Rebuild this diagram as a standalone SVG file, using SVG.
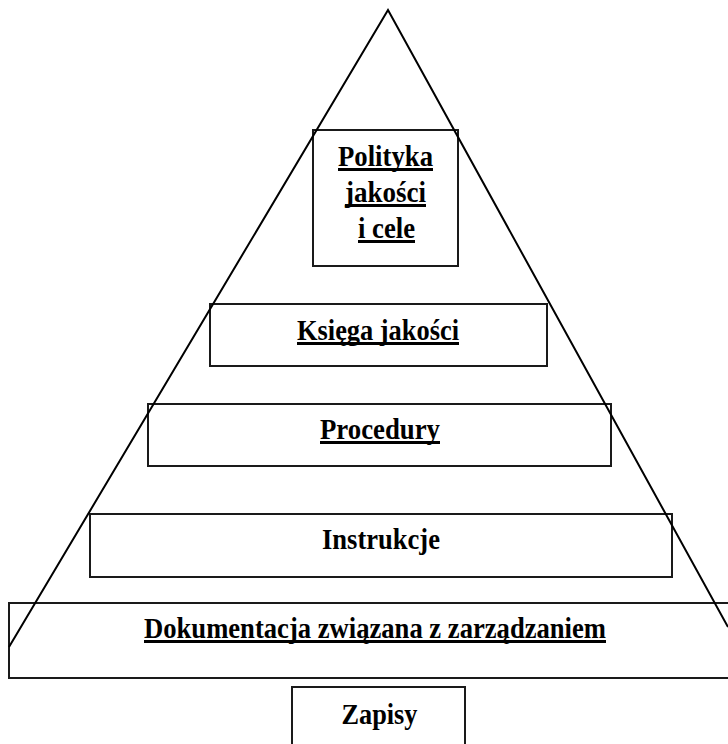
<svg xmlns="http://www.w3.org/2000/svg" width="728" height="744" viewBox="0 0 728 744">
  <style>
    .box { fill: none; stroke: #1a1a1a; stroke-width: 2; }
    .edge { fill: none; stroke: #000; stroke-width: 2; stroke-linejoin: miter; }
    .lbl { font-family: "Liberation Serif", "Times New Roman", serif; font-weight: bold; font-size: 29px; fill: #000; }
    .ul { stroke: #000; stroke-width: 3; }
  </style>
  <rect width="728" height="744" fill="#fff"/>

  <!-- document levels -->
  <g id="polityka">
    <rect class="box" x="313" y="130" width="145" height="136"/>
    <text class="lbl" x="338" y="166" textLength="95" lengthAdjust="spacingAndGlyphs">Polityka</text>
    <text class="lbl" x="345" y="202" textLength="81" lengthAdjust="spacingAndGlyphs">jakości</text>
    <text class="lbl" x="358" y="238" textLength="57" lengthAdjust="spacingAndGlyphs">i cele</text>
    <line class="ul" x1="338" y1="169.5" x2="433" y2="169.5"/>
    <line class="ul" x1="345" y1="205.5" x2="426" y2="205.5"/>
    <line class="ul" x1="358" y1="241.5" x2="415" y2="241.5"/>
  </g>

  <g id="ksiega">
    <rect class="box" x="210" y="304" width="337" height="62"/>
    <text class="lbl" x="297" y="340" textLength="162" lengthAdjust="spacingAndGlyphs">Księga jakości</text>
    <line class="ul" x1="297" y1="343.5" x2="459" y2="343.5"/>
  </g>

  <g id="procedury">
    <rect class="box" x="148" y="404" width="463" height="62"/>
    <text class="lbl" x="320" y="439" textLength="120" lengthAdjust="spacingAndGlyphs">Procedury</text>
    <line class="ul" x1="320" y1="442.5" x2="440" y2="442.5"/>
  </g>

  <g id="instrukcje">
    <rect class="box" x="90" y="514" width="582" height="63"/>
    <text class="lbl" x="322" y="549" textLength="118" lengthAdjust="spacingAndGlyphs">Instrukcje</text>
  </g>

  <g id="dokumentacja">
    <rect class="box" x="9" y="603" width="730" height="75"/>
    <text class="lbl" x="144" y="638" textLength="462" lengthAdjust="spacingAndGlyphs">Dokumentacja związana z zarządzaniem</text>
    <line class="ul" x1="144" y1="641.5" x2="606" y2="641.5"/>
  </g>

  <g id="zapisy">
    <rect class="box" x="292" y="687" width="173" height="70"/>
    <text class="lbl" x="341.5" y="724" textLength="76" lengthAdjust="spacingAndGlyphs">Zapisy</text>
  </g>

  <!-- pyramid outline -->
  <g id="connectors">
    <polyline class="edge" points="9,647 388,10 728,627"/>
  </g>
</svg>
